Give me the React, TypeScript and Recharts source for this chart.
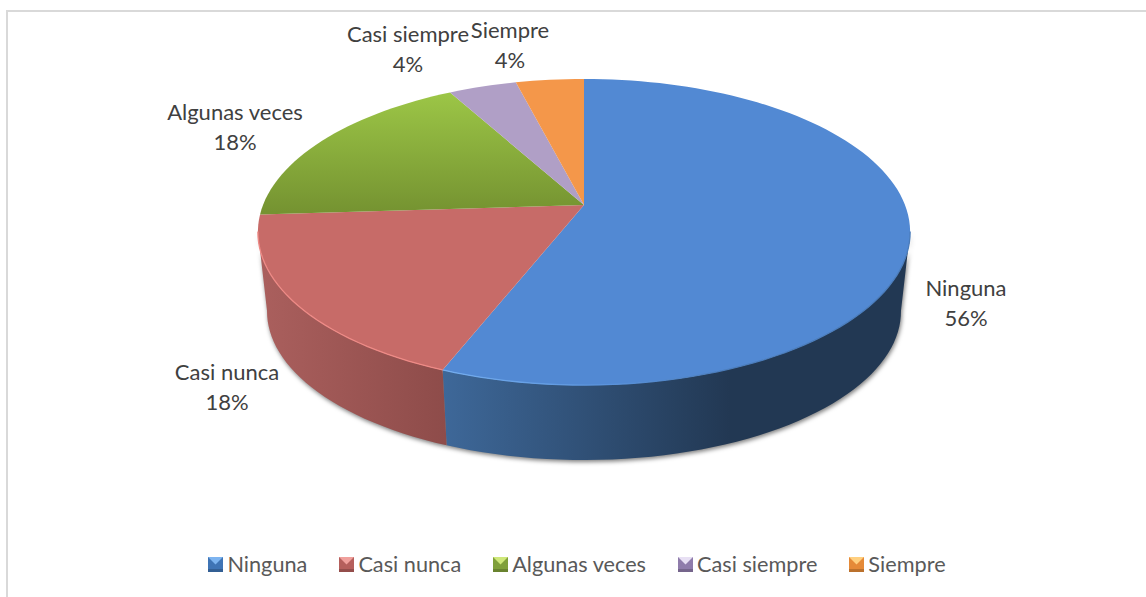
import React from "react";
import { PieChart, Pie, Legend, Cell } from "recharts";

const categories = ["Ninguna", "Casi nunca", "Algunas veces", "Casi siempre", "Siempre"];
const percentages = [56, 18, 18, 4, 4];

const topColors = ["#5289d3", "#c76b68", "url(#greenTop)", "#b09fc6", "#f4974a"];
const wallColors = ["url(#blueWall)", "url(#redWall)", "#769431", "#8a7aa0", "#c47a3a"];
const rimColors = ["url(#blueRim)", "#ee8a86", "#9cc547", "#b09fc6", "#f4974a"];
const legendColors = ["#3f74b5", "#b55f5c", "#80a03a", "#8f7cab", "#e58a38"];
const legendLight = ["#7db4f0", "#f0a09c", "#cfe87a", "#e8e0f4", "#ffd080"];

// label centres, picked by eye from the reference
const labelSpots = [
  { x: 966, y: 289 },
  { x: 227, y: 373 },
  { x: 235, y: 113 },
  { x: 408, y: 35 },
  { x: 510, y: 31 },
];

const chartData = categories.map((name, i) => ({ name, value: percentages[i] }));

const WIDTH = 1146;
const HEIGHT = 597;
const FONT = "Lato, 'Open Sans', sans-serif";

// the pie is a tilted disc seen in perspective, so the hub sits above the ellipse centre
const TILT = 0.462;
const PERSPECTIVE = 0.1765;
const DEPTH_SCALE = 0.972;
const DEPTH_DROP = 80;
const FRONT_START = 100;
const FRONT_END = 260;

function project(cx: number, cy: number, r: number, clockDeg: number) {
  const a = (clockDeg * Math.PI) / 180;
  const d = 1 + PERSPECTIVE * Math.cos(a);
  return [cx + (r * Math.sin(a)) / d, cy - (r * TILT * Math.cos(a)) / d];
}

function arcPoints(cx: number, cy: number, r: number, from: number, to: number) {
  const pts: number[][] = [];
  const steps = Math.max(2, Math.ceil((to - from) / 2));
  for (let i = 0; i <= steps; i++) {
    pts.push(project(cx, cy, r, from + ((to - from) * i) / steps));
  }
  return pts;
}

function toPath(pts: number[][]) {
  return pts.map((p, i) => `${i ? "L" : "M"}${p[0].toFixed(2)} ${p[1].toFixed(2)}`).join(" ");
}

function TopFace(props: any) {
  const { cx, cy, outerRadius, startAngle, endAngle, index } = props;
  const from = 90 - startAngle;
  const to = 90 - endAngle;
  const rimFrom = Math.max(from, FRONT_START);
  const rimTo = Math.min(to, FRONT_END);
  return (
    <g>
      <path d={`M${cx} ${cy} ${toPath(arcPoints(cx, cy, outerRadius, from, to)).replace("M", "L")} Z`} fill={topColors[index]} />
      {rimTo > rimFrom && (
        <path d={toPath(arcPoints(cx, cy, outerRadius, rimFrom, rimTo))} fill="none" stroke={rimColors[index]} strokeWidth={1.3} />
      )}
    </g>
  );
}

function Wall(props: any) {
  const { cx, cy, outerRadius, startAngle, endAngle, index } = props;
  const from = Math.max(90 - startAngle, FRONT_START);
  const to = Math.min(90 - endAngle, FRONT_END);
  if (to <= from) return <g />;
  const upper = arcPoints(cx, cy, outerRadius, from, to);
  const lower = arcPoints(cx, cy + DEPTH_DROP, outerRadius * DEPTH_SCALE, from, to).reverse();
  return <path d={`${toPath(upper)} ${toPath(lower).replace("M", "L")} Z`} fill={wallColors[index]} />;
}

function renderLabel(props: any) {
  const spot = labelSpots[props.index];
  return (
    <text x={spot.x} textAnchor="middle" fontFamily={FONT} fontSize={22} fill="#404040">
      <tspan x={spot.x} y={spot.y + 7}>{categories[props.index]}</tspan>
      <tspan x={spot.x} y={spot.y + 37}>{percentages[props.index]}%</tspan>
    </text>
  );
}

function LegendIcon({ index }: { index: number }) {
  return (
    <svg width={15} height={15} style={{ display: "block" }}>
      <rect width={15} height={15} fill={legendColors[index]} />
      <polygon points="0,0 15,0 7.5,7.5" fill={legendLight[index]} />
      <rect y={12} width={15} height={3} fill="#000" opacity={0.18} />
    </svg>
  );
}

function renderLegend() {
  return (
    <div style={{ display: "flex", justifyContent: "center", gap: 32, paddingLeft: 8, fontFamily: FONT, fontSize: 21.7, color: "#595959", lineHeight: "24px" }}>
      {categories.map((name, i) => (
        <div key={name} style={{ display: "flex", alignItems: "center", gap: 4 }}>
          <LegendIcon index={i} />
          <span>{name}</span>
        </div>
      ))}
    </div>
  );
}

export default function App() {
  return (
    <div style={{ position: "absolute", left: 0, top: 0, width: WIDTH, height: HEIGHT, background: "#fff" }}>
      <style>{`.pie-wall { filter: drop-shadow(1px 2px 2px rgba(0,0,0,0.5)); }`}</style>
      <PieChart width={WIDTH} height={HEIGHT} margin={{ top: 0, right: 0, bottom: 0, left: 0 }}>
        <defs>
          <linearGradient id="blueWall" gradientUnits="userSpaceOnUse" x1="442" y1="0" x2="730" y2="0">
            <stop offset="0" stopColor="#3e6899" />
            <stop offset="1" stopColor="#223853" />
          </linearGradient>
          <linearGradient id="blueRim" gradientUnits="userSpaceOnUse" x1="442" y1="0" x2="720" y2="0">
            <stop offset="0" stopColor="#74aef0" />
            <stop offset="0.6" stopColor="#5a93dc" />
            <stop offset="1" stopColor="#4a7cbb" />
          </linearGradient>
          <linearGradient id="redWall" gradientUnits="userSpaceOnUse" x1="262" y1="0" x2="445" y2="0">
            <stop offset="0" stopColor="#aa5f5d" />
            <stop offset="1" stopColor="#8e4c4a" />
          </linearGradient>
          <linearGradient id="greenTop" gradientUnits="userSpaceOnUse" x1="0" y1="90" x2="0" y2="212">
            <stop offset="0" stopColor="#9dc747" />
            <stop offset="1" stopColor="#759331" />
          </linearGradient>
        </defs>
        <Pie
          className="pie-wall"
          data={chartData}
          dataKey="value"
          nameKey="name"
          cx={584}
          cy={205}
          outerRadius={321}
          startAngle={90}
          endAngle={-270}
          stroke="none"
          legendType="none"
          shape={Wall}
          isAnimationActive={false}
        />
        <Pie
          data={chartData}
          dataKey="value"
          nameKey="name"
          cx={584}
          cy={205}
          outerRadius={321}
          startAngle={90}
          endAngle={-270}
          stroke="none"
          shape={TopFace}
          label={renderLabel}
          labelLine={false}
          isAnimationActive={false}
        >
          {categories.map((name, i) => (
            <Cell key={name} fill={legendColors[i]} />
          ))}
        </Pie>
        <Legend content={renderLegend} wrapperStyle={{ left: 0, width: WIDTH, top: 552 }} />
      </PieChart>
      {/* chart frame, only the top and left edges show in the crop */}
      <div style={{ position: "absolute", left: 6, top: 10, width: 1140, height: 587, borderTop: "2px solid #d9d9d9", borderLeft: "2px solid #d9d9d9", boxSizing: "border-box", pointerEvents: "none" }} />
    </div>
  );
}
